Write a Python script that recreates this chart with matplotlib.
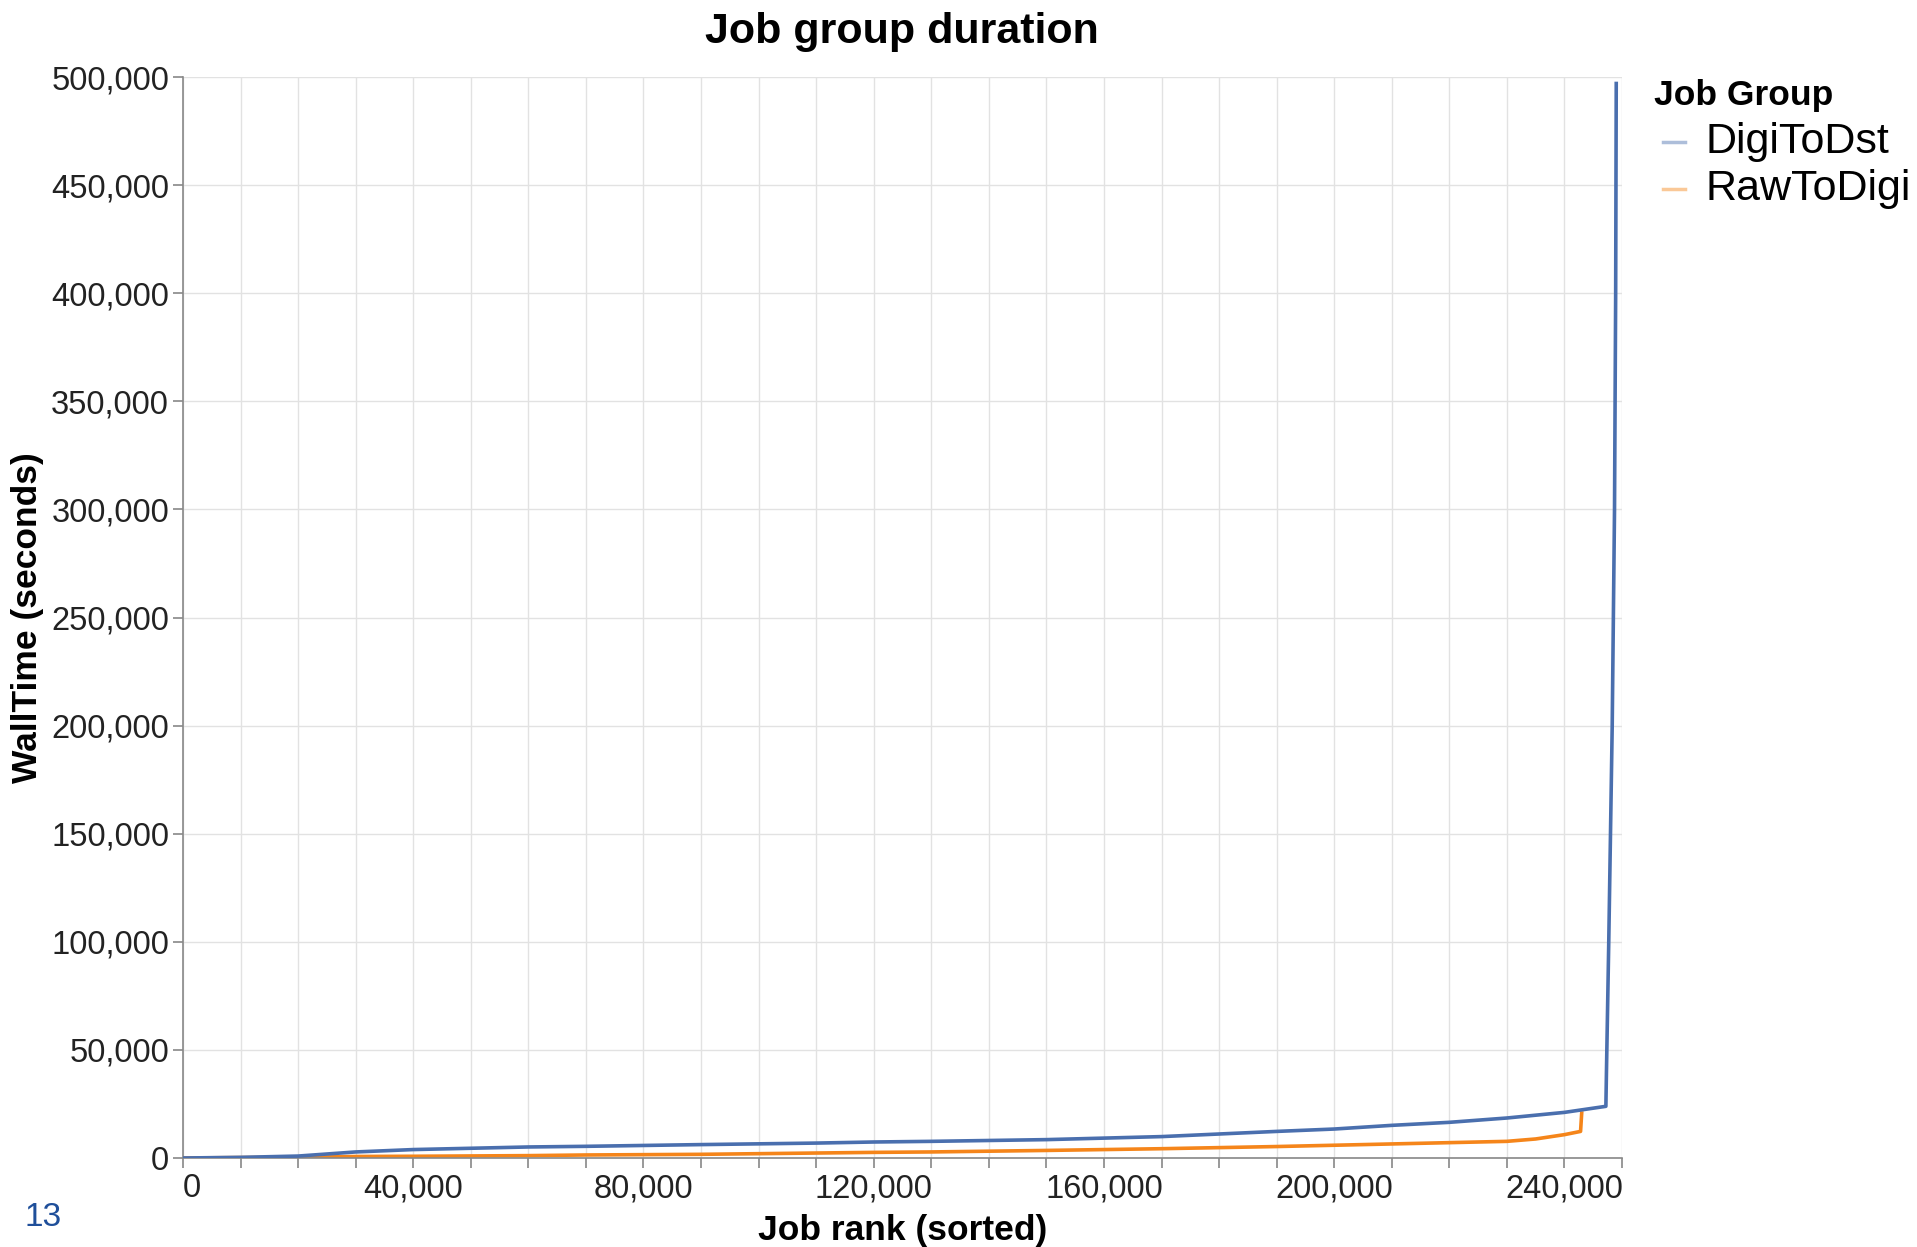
import matplotlib
matplotlib.use("Agg")
import matplotlib.pyplot as plt
import matplotlib.lines as mlines
from matplotlib.ticker import MultipleLocator, FuncFormatter

plt.rcParams['font.family'] = ['Liberation Sans', 'DejaVu Sans']

# ── Data ──────────────────────────────────────────────────────────────────────
digi_rank = [0, 10000, 20000, 30000, 40000, 50000, 60000, 70000, 90000,
             110000, 120000, 130000, 150000, 170000, 180000, 190000, 200000,
             210000, 220000, 230000, 240000, 247200, 247300, 247700, 248300,
             248700, 248900, 249000]
digi_wall = [0, 300, 900, 2800, 3900, 4500, 5100, 5400, 6200,
             6900, 7400, 7700, 8500, 9900, 11100, 12300, 13400,
             15100, 16500, 18500, 21100, 23900, 40000, 100000, 200000,
             300000, 400000, 497000]

raw_rank = [0, 10000, 20000, 30000, 40000, 60000, 70000, 90000, 110000,
            120000, 130000, 150000, 170000, 190000, 210000, 230000, 235000,
            240000, 242800, 243000]
raw_wall = [0, 200, 300, 700, 800, 1100, 1400, 1700, 2300,
            2600, 2800, 3500, 4300, 5300, 6500, 7700, 8800,
            10800, 12300, 20800]

GROUPS = ["DigiToDst", "RawToDigi"]
COLORS = ["#4a6fae", "#f5851a"]

W, H = 1917, 1247
fig = plt.figure(figsize=(W / 100, H / 100), dpi=100)
fig.patch.set_facecolor('white')

AX_L, AX_R, AX_T, AX_B = 183, 1622, 77, 1158
ax = fig.add_axes([AX_L / W, 1 - AX_B / H, (AX_R - AX_L) / W, (AX_B - AX_T) / H])

ax.plot(digi_rank, digi_wall, color=COLORS[0], lw=2.6, zorder=3)
ax.plot(raw_rank, raw_wall, color=COLORS[1], lw=2.6, zorder=2)

ax.set_xlim(0, 250000)
ax.set_ylim(0, 500000)

# ── Axes styling ──────────────────────────────────────────────────────────────
ax.xaxis.set_major_locator(MultipleLocator(10000))
ax.yaxis.set_major_locator(MultipleLocator(50000))
ax.xaxis.set_major_formatter(
    FuncFormatter(lambda v, p: f"{int(v):,}" if int(v) % 40000 == 0 else ""))
ax.yaxis.set_major_formatter(FuncFormatter(lambda v, p: f"{int(v):,}"))

ax.grid(True, color='#e2e2e2', lw=1.0, zorder=0)
ax.set_axisbelow(True)
for side in ('top', 'right'):
    ax.spines[side].set_visible(False)
for side in ('left', 'bottom'):
    ax.spines[side].set_color('#888888')
    ax.spines[side].set_linewidth(1.2)

ax.tick_params(axis='both', colors='#888888', length=7, width=1.2,
               labelsize=23.5, labelcolor='#222222')
ax.tick_params(axis='x', pad=4)
ax.tick_params(axis='y', pad=3)

fig.canvas.draw()
for lab in ax.get_xticklabels():
    if lab.get_text() == "0":
        lab.set_horizontalalignment('left')

ax.set_xlabel("Job rank (sorted)", fontsize=25.5, fontweight='bold')
ax.set_ylabel("WallTime (seconds)", fontsize=25.5, fontweight='bold')
ax.xaxis.set_label_coords(0.5, -(1214 - AX_B) / (AX_B - AX_T))
ax.yaxis.set_label_coords(-(AX_L - 44) / (AX_R - AX_L), 0.5)

fig.text(902 / W, 1 - 32 / H, "Job group duration", fontsize=31,
         fontweight='bold', ha='center', va='center')

# ── Legend (drawn by hand to match placement) ─────────────────────────────────
fig.text(1654 / W, 1 - 95 / H, "Job Group", fontsize=25.5,
         fontweight='bold', ha='left', va='center')
for i, (g, c) in enumerate(zip(GROUPS, COLORS)):
    yy = 1 - (142 + 47 * i) / H
    fig.add_artist(mlines.Line2D([1663 / W, 1685 / W], [yy, yy], color=c,
                                 lw=2.5, alpha=0.45))
    fig.text(1705 / W, yy, g, fontsize=31, ha='left', va='center')

fig.text(43 / W, 1 - 1217 / H, "13", fontsize=24, color='#1f4f9a',
         ha='center', va='center')

plt.savefig("out.png", dpi=100)
plt.close()
